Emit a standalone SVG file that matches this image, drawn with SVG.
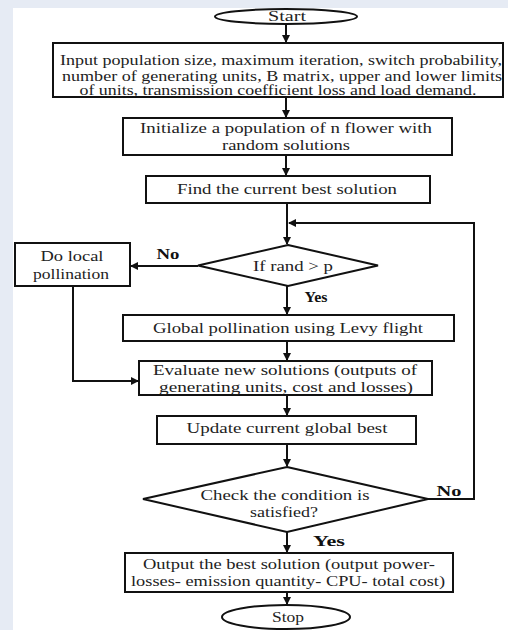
<svg xmlns="http://www.w3.org/2000/svg" width="508" height="630" viewBox="0 0 508 630">
<style>
.sh{fill:#fff;stroke:#111;stroke-width:2}
.t{font-family:"Liberation Serif","Times New Roman",serif;font-size:14px;fill:#222;text-anchor:middle}
.b{font-family:"Liberation Serif","Times New Roman",serif;font-size:14px;font-weight:bold;fill:#111;text-anchor:middle}
.c{fill:none;stroke:#111;stroke-width:2}
</style>
<defs>
<marker id="ah" markerWidth="8" markerHeight="8" refX="7" refY="4" orient="auto" markerUnits="userSpaceOnUse">
<path d="M0,0 L8,4 L0,8 Z" fill="#111"/>
</marker>
</defs>
<rect x="0" y="0" width="508" height="630" fill="#e6ebf4"/>
<rect x="13" y="8" width="495" height="622" fill="#fff"/>
<g id="connectors">
<line class="c" x1="286" y1="25" x2="286" y2="42" marker-end="url(#ah)"/>
<line class="c" x1="286" y1="97" x2="286" y2="117" marker-end="url(#ah)"/>
<line class="c" x1="286" y1="155" x2="286" y2="175" marker-end="url(#ah)"/>
<line class="c" x1="287" y1="203" x2="287" y2="244" marker-end="url(#ah)"/>
<line class="c" x1="198" y1="266" x2="131" y2="266" marker-end="url(#ah)"/>
<line class="c" x1="287" y1="286" x2="287" y2="314" marker-end="url(#ah)"/>
<polyline class="c" points="73,286 73,381 138,381" marker-end="url(#ah)"/>
<line class="c" x1="287" y1="341" x2="287" y2="360" marker-end="url(#ah)"/>
<line class="c" x1="287" y1="395" x2="287" y2="415" marker-end="url(#ah)"/>
<line class="c" x1="287" y1="444" x2="287" y2="466" marker-end="url(#ah)"/>
<polyline class="c" points="428,499 474,499 474,223 289,223" marker-end="url(#ah)"/>
<line class="c" x1="287" y1="532" x2="287" y2="552" marker-end="url(#ah)"/>
<line class="c" x1="287" y1="592" x2="287" y2="604" marker-end="url(#ah)"/>
<text class="b" x="168" y="259" textLength="23" lengthAdjust="spacingAndGlyphs">No</text>
<text class="b" x="316" y="302" textLength="23" lengthAdjust="spacingAndGlyphs">Yes</text>
<text class="b" x="449" y="496" textLength="25" lengthAdjust="spacingAndGlyphs">No</text>
<text class="b" x="329" y="546" textLength="32" lengthAdjust="spacingAndGlyphs">Yes</text>
</g>
<g id="start">
<ellipse class="sh" cx="286" cy="16.5" rx="71" ry="7.5"/>
<text class="t" x="287" y="21" textLength="38" lengthAdjust="spacingAndGlyphs">Start</text>
</g>
<g id="input">
<rect class="sh" x="53" y="43" width="450" height="54"/>
<text class="t" x="281" y="65" textLength="442" lengthAdjust="spacingAndGlyphs">Input population size, maximum iteration, switch probability,</text>
<text class="t" x="282" y="81" textLength="440" lengthAdjust="spacingAndGlyphs">number of generating units, B matrix, upper and lower limits</text>
<text class="t" x="278" y="95" textLength="397" lengthAdjust="spacingAndGlyphs">of units, transmission coefficient loss and load demand.</text>
</g>
<g id="init">
<rect class="sh" x="123" y="118" width="329" height="37"/>
<text class="t" x="286" y="133" textLength="292" lengthAdjust="spacingAndGlyphs">Initialize  a population of n flower with</text>
<text class="t" x="286" y="150" textLength="128" lengthAdjust="spacingAndGlyphs">random solutions</text>
</g>
<g id="find">
<rect class="sh" x="146" y="176" width="284" height="27"/>
<text class="t" x="287" y="194" textLength="220" lengthAdjust="spacingAndGlyphs">Find the current best solution</text>
</g>
<g id="cond1">
<polygon class="sh" points="288,245 378,265.5 288,286 198,265.5"/>
<text class="t" x="293" y="271" textLength="80" lengthAdjust="spacingAndGlyphs">If rand &gt; p</text>
</g>
<g id="local">
<rect class="sh" x="15" y="243" width="115" height="43"/>
<text class="t" x="72" y="261" textLength="63" lengthAdjust="spacingAndGlyphs">Do local</text>
<text class="t" x="71" y="279" textLength="76" lengthAdjust="spacingAndGlyphs">pollination</text>
</g>
<g id="global">
<rect class="sh" x="123" y="315" width="331" height="26"/>
<text class="t" x="288" y="333" textLength="270" lengthAdjust="spacingAndGlyphs">Global pollination  using Levy flight</text>
</g>
<g id="evaluate">
<rect class="sh" x="139" y="361" width="293" height="34"/>
<text class="t" x="285" y="375" textLength="264" lengthAdjust="spacingAndGlyphs">Evaluate new solutions (outputs of</text>
<text class="t" x="286" y="392" textLength="254" lengthAdjust="spacingAndGlyphs">generating units, cost and losses)</text>
</g>
<g id="update">
<rect class="sh" x="157" y="416" width="259" height="28"/>
<text class="t" x="287" y="433" textLength="201" lengthAdjust="spacingAndGlyphs">Update current global best</text>
</g>
<g id="cond2">
<polygon class="sh" points="287,467 428,499 287,532 143,499"/>
<text class="t" x="285" y="500" textLength="169" lengthAdjust="spacingAndGlyphs">Check the condition is</text>
<text class="t" x="284" y="517" textLength="68" lengthAdjust="spacingAndGlyphs">satisfied?</text>
</g>
<g id="output">
<rect class="sh" x="125" y="553" width="328" height="39"/>
<text class="t" x="289" y="569" textLength="292" lengthAdjust="spacingAndGlyphs">Output the best solution (output power-</text>
<text class="t" x="288" y="586" textLength="314" lengthAdjust="spacingAndGlyphs">losses- emission quantity- CPU- total cost)</text>
</g>
<g id="stop">
<ellipse class="sh" cx="286" cy="617" rx="64" ry="12"/>
<text class="t" x="288" y="622" textLength="32" lengthAdjust="spacingAndGlyphs">Stop</text>
</g>
</svg>
